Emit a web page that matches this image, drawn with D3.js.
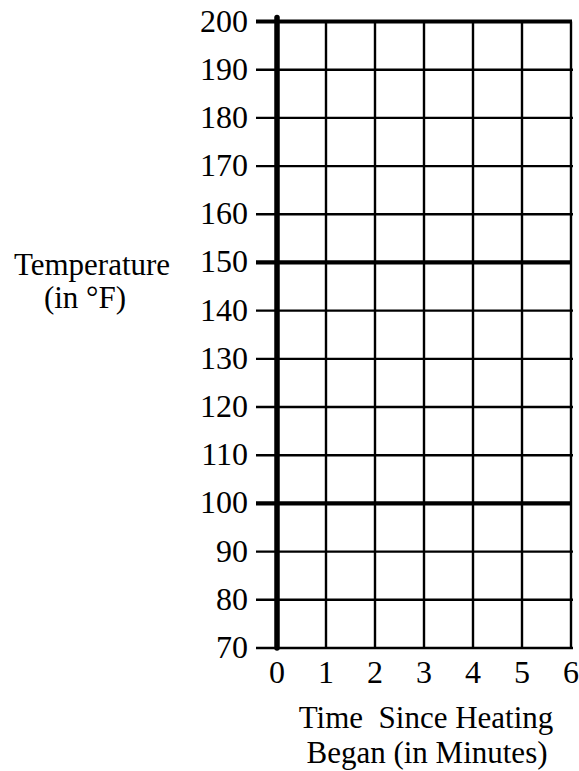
<!DOCTYPE html>
<html lang="en">
<head>
    <meta charset="UTF-8">
    <title>Temperature vs Time grid</title>
    <script src="https://d3js.org/d3.v7.min.js"></script>
    <style>
        body { margin: 0; background: #fff; }
        .tick-label {
            font-family: "Liberation Serif", "Times New Roman", serif;
            font-size: 32px;
            fill: #000;
        }
        .axis-name {
            font-family: "Liberation Serif", "Times New Roman", serif;
            font-size: 31px;
            fill: #000;
            text-anchor: middle;
        }
    </style>
</head>
<body>
    <script>
        const yTicks = [70, 80, 90, 100, 110, 120, 130, 140, 150, 160, 170, 180, 190, 200];
        const xTicks = [0, 1, 2, 3, 4, 5, 6];
        const heavyY = [100, 150, 200];
        const yTitle = ['Temperature', '(in °F)'];
        const xTitle = ['Time  Since Heating', 'Began (in Minutes)'];

        const svg = d3.select('body').append('svg')
            .attr('width', 579)
            .attr('height', 771);

        const xScale = d3.scaleLinear().domain([0, 6]).range([277, 571]);
        const yScale = d3.scaleLinear().domain([70, 200]).range([648, 21.5]);

        // vertical grid lines
        svg.selectAll('.vgrid')
            .data(xTicks.filter(d => d > 0))
            .enter().append('line')
            .attr('x1', d => xScale(d))
            .attr('x2', d => xScale(d))
            .attr('y1', yScale(200))
            .attr('y2', yScale(70))
            .attr('stroke', '#000')
            .attr('stroke-width', 2.4);

        // horizontal grid lines (with tick stubs to the left)
        svg.selectAll('.hgrid')
            .data(yTicks)
            .enter().append('line')
            .attr('x1', 256)
            .attr('x2', d => heavyY.includes(d) ? xScale(6) + 1 : xScale(6) + 2)
            .attr('y1', d => yScale(d))
            .attr('y2', d => yScale(d))
            .attr('stroke', '#000')
            .attr('stroke-width', d => heavyY.includes(d) ? 4.2 : 2.4);

        // heavy y axis
        svg.append('line')
            .attr('x1', xScale(0))
            .attr('x2', xScale(0))
            .attr('y1', yScale(200) - 4)
            .attr('y2', yScale(70))
            .attr('stroke', '#000')
            .attr('stroke-width', 5.5)
            .attr('stroke-linecap', 'round');

        svg.selectAll('.ylab')
            .data(yTicks)
            .enter().append('text')
            .attr('class', 'tick-label')
            .attr('x', 248)
            .attr('y', d => yScale(d) + 10)
            .attr('text-anchor', 'end')
            .text(d => d);

        svg.selectAll('.xlab')
            .data(xTicks)
            .enter().append('text')
            .attr('class', 'tick-label')
            .attr('x', d => xScale(d))
            .attr('y', 683)
            .attr('text-anchor', 'middle')
            .text(d => d);

        svg.append('text')
            .attr('class', 'axis-name')
            .attr('x', 92).attr('y', 275)
            .text(yTitle[0]);
        svg.append('text')
            .attr('class', 'axis-name')
            .attr('x', 85).attr('y', 308)
            .text(yTitle[1]);

        svg.append('text')
            .attr('class', 'axis-name')
            .attr('x', 426).attr('y', 728)
            .attr('xml:space', 'preserve')
            .style('white-space', 'pre')
            .text(xTitle[0]);
        svg.append('text')
            .attr('class', 'axis-name')
            .attr('x', 427).attr('y', 763)
            .text(xTitle[1]);
    </script>
</body>
</html>
